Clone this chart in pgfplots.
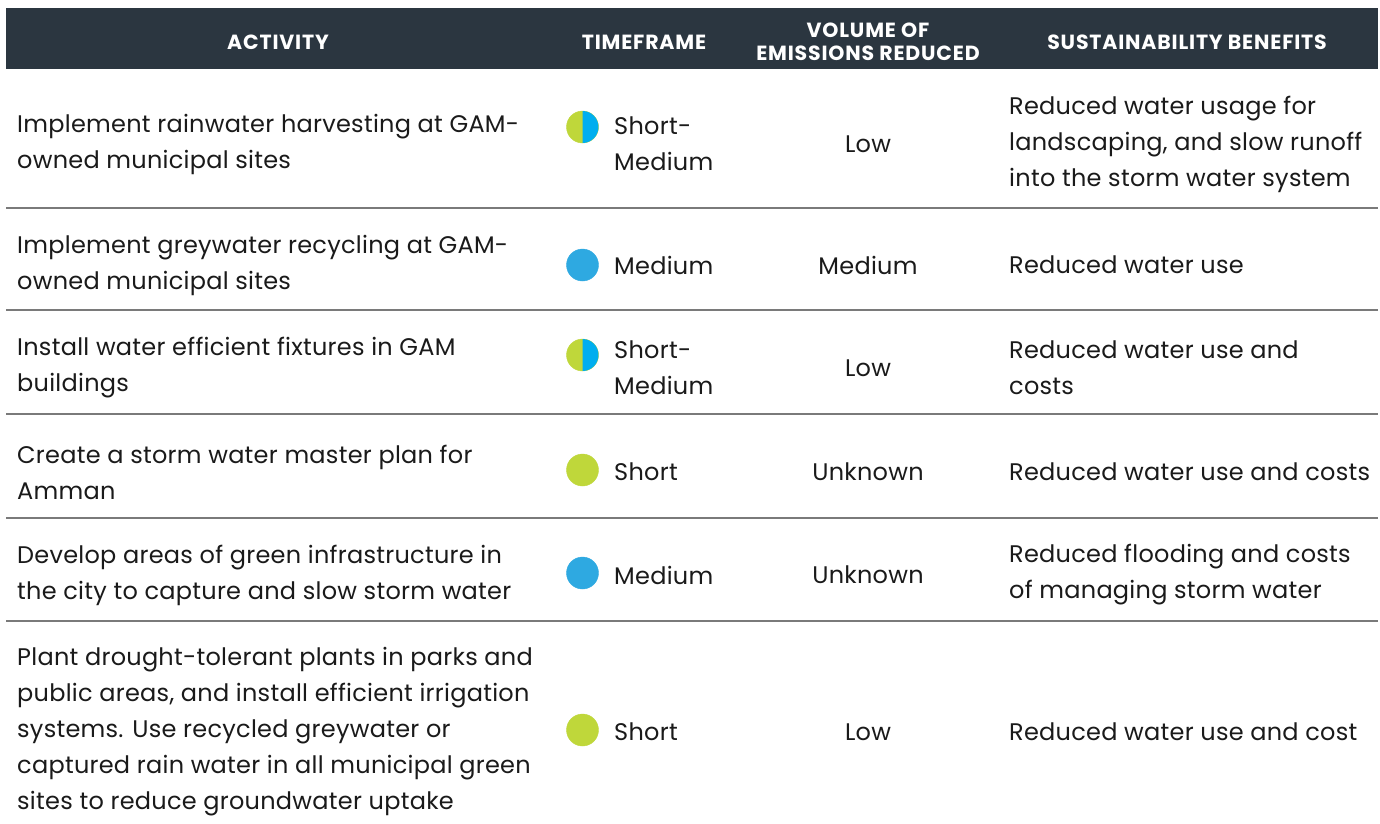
\documentclass[border=0pt]{standalone}
\usepackage{pgfplots}
\pgfplotsset{compat=1.18}
\usepackage{fontspec}
\setmainfont{Poppins}
\newfontfamily\bodyfont[LetterSpace=1.1]{Poppins}
\newfontfamily\headfont[LetterSpace=4]{Poppins}
\definecolor{hdr}{HTML}{2B3640}
\definecolor{lime}{HTML}{BFD73A}
\definecolor{sky}{HTML}{2EA9E1}
\definecolor{sky2}{HTML}{00AEEF}
\definecolor{rule}{HTML}{7A7A7A}
\definecolor{txt}{HTML}{1A1A1A}
\pgfdeclareplotmark{halfright}{%
  \pgfpathmoveto{\pgfqpoint{0pt}{\pgfplotmarksize}}%
  \pgfpatharc{90}{-90}{\pgfplotmarksize}%
  \pgfpathclose
  \pgfusepathqfill}
\begin{document}
\begin{tikzpicture}
\begin{axis}[
  width=1380pt, height=823pt, scale only axis,
  xmin=0, xmax=1380, ymin=0, ymax=823, y dir=reverse,
  hide axis, clip=false,
]
% background
\addplot[draw=none, fill=white] coordinates {(0,0) (1380,0) (1380,823) (0,823)} \closedcycle;
% header band
\addplot[draw=none, fill=hdr] coordinates {(6,8) (1378,8) (1378,69) (6,69)} --cycle;
% row rules
\addplot[rule, line width=1.4pt] coordinates {(6,208) (1378,208)};
\addplot[rule, line width=1.4pt] coordinates {(6,310) (1378,310)};
\addplot[rule, line width=1.4pt] coordinates {(6,414) (1378,414)};
\addplot[rule, line width=1.4pt] coordinates {(6,518) (1378,518)};
\addplot[rule, line width=1.4pt] coordinates {(6,621) (1378,621)};
% timeframe markers: green (short)
\addplot[only marks, mark=*, mark size=16pt, color=lime, draw=none] coordinates {(582.5,127) (582.5,355) (582.5,470) (582.5,730)};
% blue (medium)
\addplot[only marks, mark=*, mark size=16pt, color=sky, draw=none] coordinates {(582.5,265) (582.5,573)};
% half blue (short-medium)
\addplot[only marks, mark=halfright, mark size=16pt, color=sky2, draw=none] coordinates {(582.5,127) (582.5,355)};

% header text
\begin{scope}[every node/.style={text=white, font=\headfont\fontsize{20.5}{23}\selectfont\bfseries, align=center, inner sep=0pt}]
\node at (axis cs:278,42) {ACTIVITY};
\node at (axis cs:644,42) {TIMEFRAME};
\node at (axis cs:868,42) {VOLUME OF\\EMISSIONS REDUCED};
\node at (axis cs:1187,42) {SUSTAINABILITY BENEFITS};
\end{scope}

\begin{scope}[every node/.style={text=txt, font=\bodyfont\fontsize{24}{36}\selectfont, inner sep=0pt, yshift=-2pt}]
% activity column
\node[anchor=west, align=left] at (axis cs:17,142) {Implement rainwater harvesting at GAM-\\owned municipal sites};
\node[anchor=west, align=left] at (axis cs:17,263) {Implement greywater recycling at GAM-\\owned municipal sites};
\node[anchor=west, align=left] at (axis cs:17,366) {Install water efficient fixtures in GAM\\buildings};
\node[anchor=west, align=left] at (axis cs:17,470) {Create a storm water master plan for\\Amman};
\node[anchor=west, align=left] at (axis cs:17,573) {Develop areas of green infrastructure in\\the city to capture and slow storm water};
\node[anchor=west, align=left] at (axis cs:17,730) {Plant drought-tolerant plants in parks and\\public areas, and install efficient irrigation\\systems. Use recycled greywater or\\captured rain water in all municipal green\\sites to reduce groundwater uptake};
% timeframe
\node[anchor=west, align=left] at (axis cs:614,142) {Short-\\Medium};
\node[anchor=west] at (axis cs:614,263) {Medium};
\node[anchor=west, align=left] at (axis cs:614,366) {Short-\\Medium};
\node[anchor=west] at (axis cs:614,470) {Short};
\node[anchor=west] at (axis cs:614,573) {Medium};
\node[anchor=west] at (axis cs:614,730) {Short};
% volume
\node at (axis cs:868,142) {Low};
\node at (axis cs:868,263) {Medium};
\node at (axis cs:868,366) {Low};
\node at (axis cs:868,470) {Unknown};
\node at (axis cs:868,573) {Unknown};
\node at (axis cs:868,730) {Low};
% benefits
\node[anchor=west, align=left] at (axis cs:1009,142) {Reduced water usage for\\landscaping, and slow runoff\\into the storm water system};
\node[anchor=west] at (axis cs:1009,263) {Reduced water use};
\node[anchor=west, align=left] at (axis cs:1009,366) {Reduced water use and\\costs};
\node[anchor=west] at (axis cs:1009,470) {Reduced water use and costs};
\node[anchor=west, align=left] at (axis cs:1009,573) {Reduced flooding and costs\\of managing storm water};
\node[anchor=west] at (axis cs:1009,730) {Reduced water use and cost};
\end{scope}
\end{axis}
\end{tikzpicture}
\end{document}
